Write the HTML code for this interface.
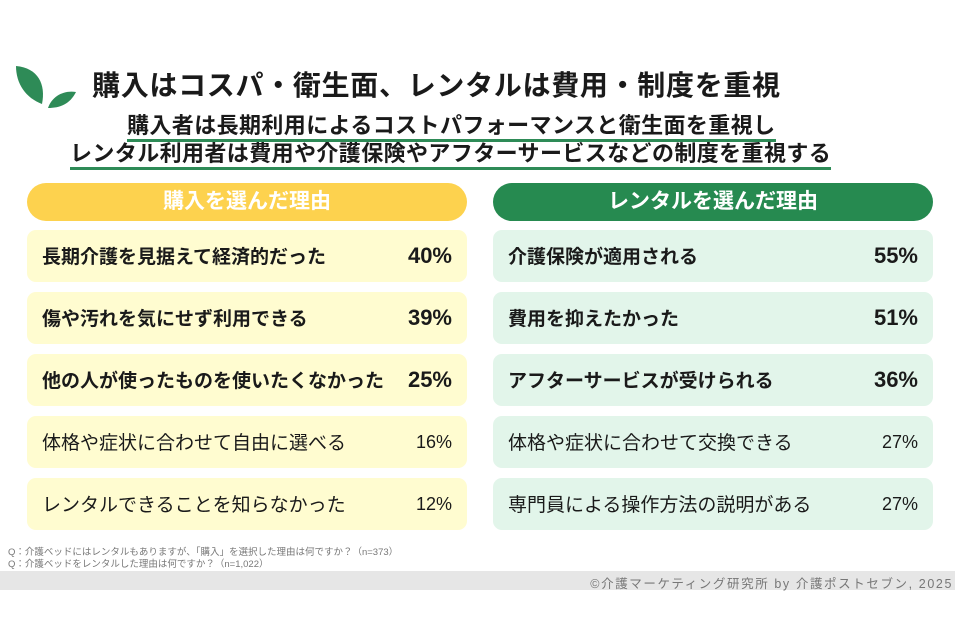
<!DOCTYPE html>
<html><head><meta charset="utf-8"><style>
body{margin:0;width:955px;height:630px;background:#fff;font-family:"Liberation Sans","Noto Sans CJK JP",sans-serif;position:relative;overflow:hidden;color:#1a1a1a}
.abs{position:absolute}
.title{left:92px;top:66px;font-size:28px;font-weight:bold;letter-spacing:0.7px;white-space:nowrap;line-height:40px}
.sub{font-size:22px;font-weight:bold;white-space:nowrap;border-bottom:3px solid #2e8b57;line-height:26px;letter-spacing:0.4px}
.pill{top:183px;height:38px;border-radius:19px;color:#fff;font-size:21px;font-weight:bold;text-align:center;line-height:38px}
.row{height:52px;border-radius:9px;font-size:19px;line-height:52px;padding:0 15px;box-sizing:border-box}
.row span{float:left;line-height:52px;padding-top:2px}
.row b,.row i{float:right;line-height:52px;font-style:normal}
.row b{font-size:22px}
.row i{font-size:18px}
.l{left:27px;width:440px;background:#fffcd0}
.r{left:493px;width:440px;background:#e2f5ea}
.bold{font-weight:bold}
.note{left:8px;font-size:9.5px;color:#777}
</style></head><body>
<svg class="abs" style="left:12px;top:62px" width="66" height="46" viewBox="0 0 66 46">
<path d="M4 4 C26 6 34 22 30 42 C14 36 4 22 4 4Z" fill="#2e8b57"/>
<path d="M36 46 C40 34 52 28 64 30 C58 42 48 46 36 46Z" fill="#2e8b57"/>
</svg>
<div class="abs title">購入はコスパ・衛生面、レンタルは費用・制度を重視</div>
<div class="abs sub" style="left:127px;top:113px">購入者は長期利用によるコストパフォーマンスと衛生面を重視し</div>
<div class="abs sub" style="left:70px;top:141px">レンタル利用者は費用や介護保険やアフターサービスなどの制度を重視する</div>
<div class="abs pill" style="left:27px;width:440px;background:#fdd24e">購入を選んだ理由</div>
<div class="abs pill" style="left:493px;width:440px;background:#268a50">レンタルを選んだ理由</div>

<div class="abs row l bold" style="top:230px"><span>長期介護を見据えて経済的だった</span><b>40%</b></div>
<div class="abs row l bold" style="top:292px"><span>傷や汚れを気にせず利用できる</span><b>39%</b></div>
<div class="abs row l bold" style="top:354px"><span>他の人が使ったものを使いたくなかった</span><b>25%</b></div>
<div class="abs row l" style="top:416px"><span>体格や症状に合わせて自由に選べる</span><i>16%</i></div>
<div class="abs row l" style="top:478px"><span>レンタルできることを知らなかった</span><i>12%</i></div>

<div class="abs row r bold" style="top:230px"><span>介護保険が適用される</span><b>55%</b></div>
<div class="abs row r bold" style="top:292px"><span>費用を抑えたかった</span><b>51%</b></div>
<div class="abs row r bold" style="top:354px"><span>アフターサービスが受けられる</span><b>36%</b></div>
<div class="abs row r" style="top:416px"><span>体格や症状に合わせて交換できる</span><i>27%</i></div>
<div class="abs row r" style="top:478px"><span>専門員による操作方法の説明がある</span><i>27%</i></div>

<div class="abs note" style="top:544px">Q：介護ベッドにはレンタルもありますが、「購入」を選択した理由は何ですか？（n=373）</div>
<div class="abs note" style="top:556px">Q：介護ベッドをレンタルした理由は何ですか？（n=1,022）</div>
<div class="abs" style="left:0;top:571px;width:955px;height:19px;background:#e6e6e6"></div>
<div class="abs" style="right:2px;top:573px;font-size:12.5px;letter-spacing:1.6px;color:#777;white-space:nowrap">©介護マーケティング研究所 by 介護ポストセブン, 2025</div>
</body></html>
